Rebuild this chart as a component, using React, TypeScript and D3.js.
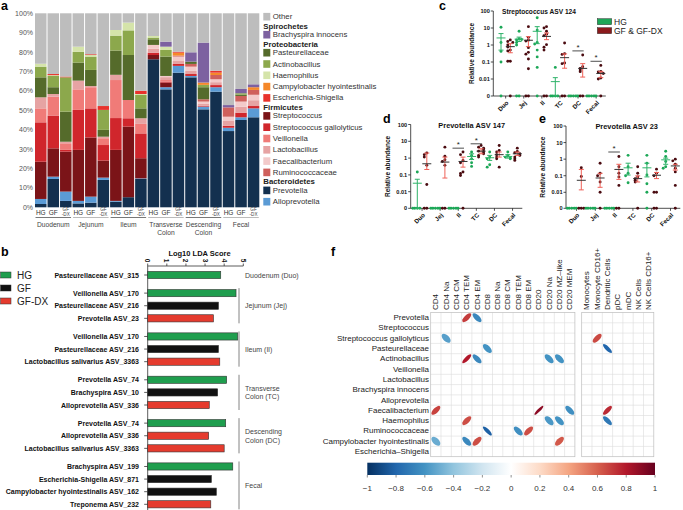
import { useEffect, useRef } from "react";
import * as d3 from "d3";

const W = 683;
const H = 510;
const FONT = "'Liberation Sans', Arial, Helvetica, sans-serif";

// ---------- a: relative composition (stack order bottom -> top) ----------
const TAXA = [
  "Prevotella", "Alloprevotella", "Streptococcus", "Streptococcus gallolyticus",
  "Veillonella", "Lactobacillus", "Faecalibacterium", "Ruminococcaceae",
  "Pasteurellaceae", "Actinobacillus", "Haemophilus",
  "Campylobacter hyointestinalis", "Escherichia-Shigella", "Brachyspira innocens", "Other",
];
const TAXA_COLORS = [
  "#13304f", "#5b9bd5", "#7b1418", "#d0262c",
  "#f07b78", "#e6a3a3", "#f3caca", "#cf605c",
  "#556b2b", "#8ca84c", "#d5e4aa",
  "#f5882a", "#e8322c", "#7d61a0", "#bdbdbd",
];
const BAR_TREATMENTS = ["HG", "GF", "GF-DX"];
const BAR_SITES = ["Duodenum", "Jejunum", "Ileum", "Transverse\nColon", "Descending\nColon", "Fecal"];
// one row per bar, values in TAXA order (%)
const BAR_VALUES = [
  [1.7, 2.6, 19.2, 20.3, 7.2, 5.7, 0, 0, 10.3, 5.5, 1.5, 0, 0, 0, 26.0],
  [14.6, 1.2, 14.6, 16.9, 9.7, 1.4, 0, 0, 3.5, 5.8, 0.4, 0, 0.6, 0, 31.3],
  [3.3, 4.8, 20.6, 0.9, 3.4, 0.8, 0, 0, 15.5, 17.7, 0, 0, 0.4, 0, 32.6],
  [2.0, 1.3, 26.3, 20.6, 10.6, 4.5, 0, 0, 9.3, 5.6, 2.6, 0, 0, 0, 17.2],
  [2.4, 3.1, 30.5, 15.0, 10.9, 0.6, 0, 0, 8.3, 6.9, 0.8, 0, 0.4, 0, 21.1],
  [14.1, 1.2, 8.8, 8.0, 3.5, 0.8, 0, 0, 3.5, 10.3, 0, 0, 2.0, 0, 47.8],
  [2.9, 0.4, 26.3, 16.4, 19.6, 2.7, 0, 0, 12.5, 7.7, 2.9, 0, 0, 0, 8.6],
  [5.2, 0, 36.4, 4.3, 9.4, 0, 0, 0, 23.2, 12.7, 4.0, 0, 0, 0, 4.8],
  [14.6, 0.3, 10.4, 12.8, 4.9, 2.9, 0, 0, 5.1, 6.9, 0.5, 0, 1.7, 0, 39.9],
  [76.3, 0, 2.2, 1.2, 0, 2.0, 2.0, 0, 2.9, 0.9, 0.8, 0, 0, 0, 11.7],
  [60.8, 1.1, 2.4, 0.5, 0.8, 1.5, 0.6, 0, 10.0, 3.4, 1.7, 0, 0, 2.6, 14.6],
  [69.4, 3.5, 0, 1.0, 0, 1.5, 2.3, 0.5, 0, 0, 0, 1.5, 0.5, 0, 19.8],
  [67.0, 0.7, 0, 1.0, 0, 1.8, 2.0, 1.4, 1.2, 0, 0, 0, 0, 4.8, 20.1],
  [50.5, 1.4, 0, 0.4, 0, 1.2, 1.0, 1.2, 6.2, 1.2, 0, 1.2, 0, 20.6, 15.1],
  [59.6, 2.3, 0, 1.1, 0, 1.5, 1.5, 2.2, 0, 0, 0, 1.2, 1.0, 0, 29.6],
  [39.3, 1.7, 0, 1.0, 0, 2.5, 2.2, 4.8, 0, 0, 0, 0, 0, 1.2, 47.3],
  [45.0, 1.4, 0, 2.4, 0, 3.0, 2.7, 2.9, 0.7, 0.7, 0, 0, 0, 2.2, 39.0],
  [46.4, 4.6, 0, 1.2, 0, 3.0, 2.8, 2.5, 0, 0, 0, 1.4, 0, 1.5, 36.6],
];
const PCT_TICKS = [0, 10, 20, 30, 40, 50, 60, 70, 80, 90, 100];
// "#" marks a phylum header
const LEGEND_ROWS = [
  "Other", "#Spirochetes", "Brachyspira innocens", "#Proteobacteria", "Pasteurellaceae",
  "Actinobacillus", "Haemophilus", "Campylobacter hyointestinalis", "Escherichia-Shigella",
  "#Firmicutes", "Streptococcus", "Streptococcus gallolyticus", "Veillonella", "Lactobacillus",
  "Faecalibacterium", "Ruminococcaceae", "#Bacteroidetes", "Prevotella", "Alloprevotella",
];

// ---------- b: LEfSe ----------
const LDA_LABELS = [
  "Pasteurellaceae ASV_315",
  "Veillonella ASV_170", "Pasteurellaceae ASV_216", "Prevotella ASV_23",
  "Veillonella ASV_170", "Pasteurellaceae ASV_216", "Lactobacillus salivarius ASV_3363",
  "Prevotella ASV_74", "Brachyspira ASV_10", "Alloprevotella ASV_336",
  "Prevotella ASV_74", "Alloprevotella ASV_336", "Lactobacillus salivarius ASV_3363",
  "Brachyspira ASV_199", "Escherichia-Shigella ASV_871", "Campylobacter hyointestinalis ASV_162", "Treponema ASV_232",
];
const LDA_SCORES = [3.82, 4.62, 3.7, 3.44, 4.71, 3.7, 3.77, 4.13, 3.66, 3.22, 4.08, 3.19, 4.0, 4.45, 3.33, 3.59, 3.3];
const LDA_CLASS = ["HG", "HG", "GF", "GF-DX", "HG", "GF", "GF-DX", "HG", "GF", "GF-DX", "HG", "GF-DX", "GF-DX", "HG", "GF", "GF", "GF-DX"];
const LDA_SITE = [0, 1, 1, 1, 2, 2, 2, 3, 3, 3, 4, 4, 4, 5, 5, 5, 5];
const LDA_SITE_NAMES = ["Duodenum (Duo)", "Jejunum (Jej)", "Ileum (Il)", "Transverse\nColon (TC)", "Descending\nColon (DC)", "Fecal"];
const LDA_TICKS = [0, 1, 2, 3, 4, 5];
const CLASS_NAMES = ["HG", "GF", "GF-DX"];
const CLASS_COLORS = ["#1f9e4e", "#111111", "#e53b2e"];

// ---------- c, d, e: relative abundance ----------
const DOT_SITES = ["Duo", "Jej", "Il", "TC", "DC", "Fecal"];
const DOT_TICKS = [100, 10, 1, 0.1, 0.01, 0];

const C_HG = [
  [11, 1.4, 0.42, 0.1, 0],
  [6.5, 2.3, 2.0, 2.1, 1.4, 1.0, 0, 0],
  [40, 7.5, 1.4, 1.15, 0.5, 0.2, 0.048, 0],
  [0.048, 0, 0, 0, 0],
  [0, 0, 0, 0, 0],
  [0, 0, 0, 0, 0],
];
const C_GF = [
  [2.0, 1.6, 1.4, 1.0, 0.75, 0.5, 0.45, 0.11, 0.11, 0],
  [12, 2.8, 1.9, 1.7, 0.7, 0.37, 0.29, 0.15, 0.04, 0, 0],
  [12, 10, 6.5, 4.3, 3.5, 1.05, 0.73, 0.5, 0, 0],
  [1.3, 0.31, 0.28, 0.088, 0.08, 0, 0],
  [0.26, 0.053, 0.042, 0.034, 0.027, 0, 0],
  [0.063, 0.028, 0.026, 0.021, 0.0115, 0.01, 0],
];
// [mean, lower, upper]
const C_HG_STATS = [[2.6, 0.5, 4.7], [2.2, 1.6, 2.9], [6.4, 1.2, 12], [0.007, 0, 0.012], null, null];
const C_GF_STATS = [[0.8, 0.35, 1.2], [1.9, 0.8, 3.1], [3.2, 2.06, 5.1], [0.18, 0.043, 0.3], [0.042, 0.013, 0.08], [0.021, 0.012, 0.028]];
const C_SIG = [[4, 0.45], [5, 0.11]];

const D_HG = [
  [0.15, 0, 0, 0, 0],
  [0, 0, 0, 0, 0],
  [0, 0, 0, 0, 0],
  [2.3, 1.45, 0.9, 0.53, 0.32],
  [2.3, 1.15, 0.9, 0.4, 0.29],
  [2.3, 1.45, 1.15, 1.0, 0.9],
];
const D_GF = [
  [2.0, 1.6, 1.15, 0.37, 0.027, 0, 0],
  [4.5, 1.3, 0.8, 0.63, 0.37, 0, 0],
  [2.3, 1.6, 0.73, 0.53, 0.15, 0.12, 0.093, 0],
  [5.6, 4.5, 3.9, 3.1, 2.6, 2.3, 1.8, 1.45, 1.15],
  [5.6, 2.85, 2.3, 1.6, 1.15, 0.9, 0.29],
  [3.9, 2.5, 2.1, 1.8, 1.45, 1.15, 0.9, 0.73],
];
const D_HG_STATS = [[0.032, 0, 0.055], null, null, [1.25, 0.83, 1.8], [1.05, 0.73, 1.45], [1.25, 1.0, 1.6]];
const D_GF_STATS = [[0.46, 0.21, 2.0], [0.58, 0.065, 1.15], [0.63, 0.29, 1.15], [2.6, 1.8, 3.6], [1.6, 1.15, 2.3], [1.8, 1.45, 2.3]];
const D_SIG = [[2, 3.9], [3, 7.1]];

const E_HG = [
  [0, 0, 0, 0, 0],
  [0, 0, 0, 0, 0],
  [0, 0, 0, 0, 0],
  [1.7, 0.35, 0.14, 0.1, 0.038],
  [1.7, 0.57, 0.11, 0.033, 0.01, 0],
  [3.0, 1.45, 0.72, 0.35, 0.28],
];
const E_GF = [
  [0.3, 0.09, 0, 0, 0],
  [0.57, 0.14, 0.1, 0.042, 0.01, 0],
  [1.45, 0.35, 0.14, 0.085, 0.026, 0, 0],
  [0.35, 0.14, 0.085, 0.067, 0.053, 0.042, 0],
  [0.25, 0.14, 0.1, 0.01, 0.01, 0, 0],
  [1.0, 0.79, 0.49, 0.28, 0.17, 0.026, 0],
];
const E_HG_STATS = [null, null, null, [0.3, 0.11, 0.57], [0.3, 0.085, 0.57], [0.91, 0.49, 1.15]];
const E_GF_STATS = [[0.053, 0.014, 0.24], [0.073, 0.02, 0.14], [0.24, 0.06, 0.49], [0.067, 0.042, 0.098], [0.107, 0.067, 0.157], [0.39, 0.22, 0.49]];
const E_SIG = [[2, 2.7]];

// ---------- f: correlations ----------
const F_ROWS = [
  "Prevotella", "Streptococcus", "Streptococcus gallolyticus", "Pasteurellaceae", "Actinobacillus",
  "Veillonella", "Lactobacillus", "Brachyspira innocens", "Alloprevotella", "Faecalibacterium",
  "Haemophilus", "Ruminococcaceae", "Campylobacter hyointestinalis", "Escherichia\u2013Shigella",
];
const F_COLS_T = ["CD4", "CD4 Na", "CD4 CM", "CD4 TEM", "CD4 EM", "CD8", "CD8 Na", "CD8 CM", "CD8 TEM", "CD8 EM", "CD20", "CD20 Na", "CD20 MZ\u2013like", "CD20 MEM"];
const F_COLS_I = ["Monocytes", "Monocyte CD16+", "Dendritic Cells", "pDC", "mDC", "NK Cells", "NK Cells CD16+"];
// [row, column, r]
const F_CORR_T = [
  [0, 3, 0.7], [0, 4, -0.65], [2, 1, -0.55], [3, 5, -0.6],
  [4, 3, 0.8], [4, 4, -0.65], [4, 11, -0.6], [4, 12, -0.6],
  [9, 0, 0.68], [9, 10, 0.9], [9, 13, -0.62],
  [10, 3, 0.65], [10, 11, -0.58], [10, 12, -0.6],
  [11, 5, -0.82], [11, 8, -0.62], [11, 9, 0.65],
  [12, 0, -0.5], [12, 3, -0.65], [12, 4, 0.65], [12, 12, 0.62],
];
const F_CORR_I = [[2, 1, 0.66], [3, 2, -0.8], [9, 2, 0.75], [10, 2, -0.72]];
const RDBU = ["#053061", "#2166AC", "#4393C3", "#92C5DE", "#D1E5F0", "#FFFFFF", "#FDDBC7", "#F4A582", "#D6604D", "#B2182B", "#67001F"];
const COLORBAR_TICKS = [-1, -0.8, -0.6, -0.4, -0.2, 0, 0.2, 0.4, 0.6, 0.8, 1];

type Sel = d3.Selection<any, unknown, null, undefined>;

function label(
  g: Sel, x: number, y: number, s: string, size: number,
  o: { anchor?: string; weight?: string; fill?: string; rotate?: number; baseline?: string } = {}
) {
  const t = g.append("text")
    .attr("x", x).attr("y", y)
    .attr("font-size", size)
    .attr("font-family", FONT)
    .attr("fill", o.fill ?? "#222")
    .attr("text-anchor", o.anchor ?? "start")
    .text(s);
  if (o.weight) t.attr("font-weight", o.weight);
  if (o.baseline) t.attr("dominant-baseline", o.baseline);
  if (o.rotate) t.attr("transform", `rotate(${o.rotate},${x},${y})`);
  return t;
}

function drawComposition(svg: Sel) {
  const g = svg.append("g");
  const x = d3.scaleBand<number>().domain(d3.range(BAR_VALUES.length)).range([35, 259.3]).paddingInner(0.08);
  const y = d3.scaleLinear().domain([0, 100]).range([207.3, 13.3]);

  PCT_TICKS.forEach((t) => {
    label(g, 33, y(t), `${t}%`, 7, { anchor: "end", fill: "#555", baseline: "central" });
  });

  const rows = BAR_VALUES.map((v) => Object.fromEntries(TAXA.map((t, i) => [t, v[i]])));
  const series = d3.stack<any>().keys(TAXA)(rows);
  series.forEach((layer, li) => {
    layer.forEach((d, bi) => {
      if (d[1] - d[0] <= 0) return;
      g.append("rect")
        .attr("x", x(bi)!)
        .attr("y", y(d[1]))
        .attr("width", x.bandwidth())
        .attr("height", y(d[0]) - y(d[1]))
        .attr("fill", TAXA_COLORS[li]);
    });
  });

  // bar labels
  d3.range(BAR_VALUES.length).forEach((bi) => {
    const cx = x(bi)! + x.bandwidth() / 2;
    const tr = BAR_TREATMENTS[bi % 3];
    if (tr === "GF-DX") {
      label(g, cx, 209.8, "GF", 4.6, { anchor: "middle", fill: "#444", baseline: "central" });
      label(g, cx, 214.4, "-DX", 4.6, { anchor: "middle", fill: "#444", baseline: "central" });
    } else {
      label(g, cx, 212, tr, 6.5, { anchor: "middle", fill: "#333", baseline: "central" });
    }
  });

  BAR_SITES.forEach((s, si) => {
    const x0 = x(si * 3)!;
    const x1 = x(si * 3 + 2)! + x.bandwidth();
    g.append("line")
      .attr("x1", x0 + 0.5).attr("x2", x1 - 0.5)
      .attr("y1", 217.5).attr("y2", 217.5)
      .attr("stroke", si % 2 === 0 ? "#555" : "#aaa")
      .attr("stroke-width", 0.8);
    s.split("\n").forEach((line, li) => {
      label(g, (x0 + x1) / 2, 224.5 + li * 8, line, 6.7, { anchor: "middle", fill: "#444", baseline: "central" });
    });
  });

  // legend
  let ly = 16.7;
  LEGEND_ROWS.forEach((row, i) => {
    if (i > 0) {
      const prevHeader = LEGEND_ROWS[i - 1].startsWith("#");
      ly += row.startsWith("#") ? 9.5 : prevHeader ? 8.5 : 11.3;
    }
    if (row.startsWith("#")) {
      label(g, 263.3, ly, row.slice(1), 7.8, { weight: "bold", fill: "#222", baseline: "central" });
    } else {
      const ti = TAXA.indexOf(row);
      g.append("rect").attr("x", 263.3).attr("y", ly - 3.8).attr("width", 7).attr("height", 7.6).attr("fill", TAXA_COLORS[ti]);
      label(g, 272.8, ly, row, 7.8, { fill: "#333", baseline: "central" });
    }
  });
}

function drawLda(svg: Sel) {
  const g = svg.append("g");
  const x = d3.scaleLinear().domain([0, 5]).range([147.7, 243.3]);
  const gapUnits = 0.437;
  const slots = LDA_LABELS.map((_, i) => i + LDA_SITE[i] * gapUnits);
  const y = d3.scaleLinear().domain([0, d3.max(slots)!]).range([275, 504.3]);
  const axisY = 266;

  label(g, (x(0) + x(5)) / 2 + 4, 253, "Log10 LDA Score", 7.5, { anchor: "middle", weight: "bold", fill: "#111", baseline: "central" });
  g.append("line").attr("x1", x(0)).attr("x2", x(5)).attr("y1", axisY).attr("y2", axisY).attr("stroke", "#333").attr("stroke-width", 0.8);
  LDA_TICKS.forEach((t) => {
    g.append("line").attr("x1", x(t)).attr("x2", x(t)).attr("y1", axisY).attr("y2", axisY - 2.5).attr("stroke", "#333").attr("stroke-width", 0.8);
    label(g, x(t), 260.5, String(t), 6.5, { anchor: "middle", weight: "bold", fill: "#111", baseline: "central", rotate: 90 });
  });
  g.append("line").attr("x1", x(0)).attr("x2", x(0)).attr("y1", axisY).attr("y2", 510).attr("stroke", "#333").attr("stroke-width", 0.8);

  LDA_LABELS.forEach((name, i) => {
    const cy = y(slots[i]);
    const ci = CLASS_NAMES.indexOf(LDA_CLASS[i]);
    g.append("rect")
      .attr("x", x(0)).attr("y", cy - 3.6)
      .attr("width", x(LDA_SCORES[i]) - x(0)).attr("height", 7.2)
      .attr("fill", CLASS_COLORS[ci])
      .attr("stroke", "#333").attr("stroke-width", 0.6);
    g.append("line").attr("x1", x(0) - 3.5).attr("x2", x(0)).attr("y1", cy).attr("y2", cy).attr("stroke", "#333").attr("stroke-width", 0.8);
    label(g, 139, cy, name, 7, { anchor: "end", weight: "bold", fill: "#111", baseline: "central" });
  });

  LDA_SITE_NAMES.forEach((site, si) => {
    const idx = LDA_SITE.map((s, i) => (s === si ? i : -1)).filter((i) => i >= 0);
    const y0 = y(slots[idx[0]]);
    const y1 = y(slots[idx[idx.length - 1]]);
    if (idx.length > 1) {
      g.append("line").attr("x1", 239).attr("x2", 239).attr("y1", y0 - 5).attr("y2", y1 + 5).attr("stroke", "#666").attr("stroke-width", 0.8);
    }
    const lines = site.split("\n");
    const mid = (y0 + y1) / 2;
    lines.forEach((ln, li) => {
      const cy = lines.length === 1 ? mid : mid - 4.2 + li * 8.6;
      label(g, 245, cy, ln, 7, { fill: "#444", baseline: "central" });
    });
  });

  // legend
  CLASS_NAMES.forEach((c, i) => {
    const cy = 275 + i * 13;
    g.append("rect").attr("x", 0.5).attr("y", cy - 3).attr("width", 10.5).attr("height", 6).attr("fill", CLASS_COLORS[i]).attr("stroke", "#333").attr("stroke-width", 0.5);
    label(g, 17, cy, c, 10, { fill: "#222", baseline: "central" });
  });
}

interface DotPanel {
  title: string;
  titleSize: number;
  axisX: number;
  y100: number;
  y001: number;
  y0: number;
  firstX: number;
  step: number;
  pair: number;
  titleX: number;
  yLabelX: number;
  hg: number[][];
  gf: number[][];
  hgStats: (number[] | null)[];
  gfStats: (number[] | null)[];
  sig: number[][];
}

const HG_DOT = "#1ca757";
const HG_ERR = "#2fb36a";
const GF_DOT = "#4a0b10";
const GF_ERR = "#ef6158";

function drawDotPlot(svg: Sel, p: DotPanel) {
  const g = svg.append("g");
  const log = d3.scaleLog().domain([0.01, 100]).range([p.y001, p.y100]);
  const y = (v: number) => (v <= 0 ? p.y0 : log(v));
  const site = d3.scalePoint<string>().domain(DOT_SITES).range([p.firstX, p.firstX + p.step * 5]);
  const lastX = site("Fecal")! + p.pair;

  label(g, p.titleX, p.y100 + 0.5, p.title, p.titleSize, { anchor: "middle", weight: "bold", fill: "#111", baseline: "central" });
  label(g, p.yLabelX, (p.y100 + p.y0) / 2, "Relative abundance", 6.5, { anchor: "middle", weight: "bold", fill: "#111", baseline: "central", rotate: -90 });

  g.append("line").attr("x1", p.axisX).attr("x2", p.axisX).attr("y1", p.y100).attr("y2", p.y0).attr("stroke", "#222").attr("stroke-width", 0.8);
  DOT_TICKS.forEach((t) => {
    g.append("line").attr("x1", p.axisX - 2.5).attr("x2", p.axisX).attr("y1", y(t)).attr("y2", y(t)).attr("stroke", "#222").attr("stroke-width", 0.8);
    label(g, p.axisX - 3.5, y(t), String(t), 5.6, { anchor: "end", weight: "bold", fill: "#111", baseline: "central" });
  });
  g.append("line").attr("x1", p.axisX).attr("x2", lastX + 5).attr("y1", p.y0).attr("y2", p.y0).attr("stroke", "#222").attr("stroke-width", 0.8);

  DOT_SITES.forEach((s, si) => {
    const cx = site(s)! + p.pair / 2;
    g.append("line").attr("x1", cx).attr("x2", cx).attr("y1", p.y0).attr("y2", p.y0 + 2.5).attr("stroke", "#222").attr("stroke-width", 0.8);
    label(g, cx + 1.5, p.y0 + 5.5, s, 6.2, { anchor: "end", weight: "bold", fill: "#111", baseline: "central", rotate: -45 });

    const groups: [number[], (number[] | null), number, string, string][] = [
      [p.hg[si], p.hgStats[si], site(s)!, HG_DOT, HG_ERR],
      [p.gf[si], p.gfStats[si], site(s)! + p.pair, GF_DOT, GF_ERR],
    ];
    groups.forEach(([vals, stat, gx, dotC, errC]) => {
      const placed: number[] = [];
      const offs = [0, -2.5, 2.5, -4.5, 4.5];
      vals.forEach((v) => {
        const py = y(v);
        const k = placed.filter((q) => Math.abs(q - py) < 2.8).length;
        placed.push(py);
        g.append("circle").attr("cx", gx + offs[k % offs.length]).attr("cy", py).attr("r", 1.45).attr("fill", dotC);
      });
      if (stat) {
        const [m, lo, hi] = stat;
        g.append("line").attr("x1", gx).attr("x2", gx).attr("y1", y(lo)).attr("y2", y(hi)).attr("stroke", errC).attr("stroke-width", 1);
        [lo, hi].forEach((b) => {
          g.append("line").attr("x1", gx - 2.5).attr("x2", gx + 2.5).attr("y1", y(b)).attr("y2", y(b)).attr("stroke", errC).attr("stroke-width", 1);
        });
        g.append("line").attr("x1", gx - 4.5).attr("x2", gx + 4.5).attr("y1", y(m)).attr("y2", y(m)).attr("stroke", errC === GF_ERR ? "#333" : errC).attr("stroke-width", 1);
      }
    });
  });

  p.sig.forEach(([si, v]) => {
    const x0 = site(DOT_SITES[si])! - 1;
    const x1 = x0 + p.pair + 2;
    g.append("line").attr("x1", x0).attr("x2", x1).attr("y1", y(v)).attr("y2", y(v)).attr("stroke", "#222").attr("stroke-width", 0.8);
    label(g, (x0 + x1) / 2, y(v) - 1, "*", 8, { anchor: "middle", fill: "#222" });
  });
}

function drawCorr(svg: Sel) {
  const g = svg.append("g");
  const y = d3.scaleBand<string>().domain(F_ROWS).range([312.5, 456.7]);
  const xT = d3.scaleBand<string>().domain(F_COLS_T).range([430.7, 574.9]);
  const xI = d3.scaleBand<string>().domain(F_COLS_I).range([581.7, 653.8]);
  const color = d3.scaleLinear<string>().domain(d3.range(11).map((i) => -1 + i * 0.2)).range(RDBU);
  const s = 4.5;

  F_ROWS.forEach((r) => {
    label(g, 429, y(r)! + y.bandwidth() / 2, r, 8, { anchor: "end", fill: "#222", baseline: "central" });
  });

  const grid = (x: d3.ScaleBand<string>, cols: string[], cells: number[][]) => {
    const [x0, x1] = x.range();
    const [y0, y1] = y.range();
    cols.forEach((c, i) => {
      if (i > 0) g.append("line").attr("x1", x(c)!).attr("x2", x(c)!).attr("y1", y0).attr("y2", y1).attr("stroke", "#dcdcdc").attr("stroke-width", 0.6);
      const cx = x(c)! + x.bandwidth() / 2;
      label(g, cx, 310, c, 8, { fill: "#222", baseline: "central", rotate: -90 });
    });
    F_ROWS.forEach((r, i) => {
      if (i > 0) g.append("line").attr("x1", x0).attr("x2", x1).attr("y1", y(r)!).attr("y2", y(r)!).attr("stroke", "#dcdcdc").attr("stroke-width", 0.6);
    });
    g.append("rect").attr("x", x0).attr("y", y0).attr("width", x1 - x0).attr("height", y1 - y0).attr("fill", "none").attr("stroke", "#bdbdbd").attr("stroke-width", 0.7);
    cells.forEach(([ri, ci, r]) => {
      const cx = x(cols[ci])! + x.bandwidth() / 2;
      const cy = y(F_ROWS[ri])! + y.bandwidth() / 2;
      g.append("ellipse")
        .attr("cx", cx).attr("cy", cy)
        .attr("rx", s * Math.sqrt(1 + Math.abs(r)))
        .attr("ry", s * Math.sqrt(1 - Math.abs(r)))
        .attr("transform", `rotate(${r > 0 ? -45 : 45},${cx},${cy})`)
        .attr("fill", color(r));
    });
  };
  grid(xT, F_COLS_T, F_CORR_T);
  grid(xI, F_COLS_I, F_CORR_I);

  // colour bar
  const cb = d3.scaleLinear().domain([-1, 1]).range([367.3, 655]);
  const grad = svg.append("defs").append("linearGradient").attr("id", "rdbu").attr("x1", "0%").attr("x2", "100%");
  RDBU.forEach((c, i) => {
    grad.append("stop").attr("offset", `${i * 10}%`).attr("stop-color", c);
  });
  g.append("rect").attr("x", cb(-1)).attr("y", 462.7).attr("width", cb(1) - cb(-1)).attr("height", 12.3).attr("fill", "url(#rdbu)");
  COLORBAR_TICKS.forEach((t) => {
    g.append("line").attr("x1", cb(t)).attr("x2", cb(t)).attr("y1", 475).attr("y2", 477.5).attr("stroke", "#444").attr("stroke-width", 0.6);
    const txt = t === 0 ? "0" : t < 0 ? `\u2212${Math.abs(t)}` : String(t);
    label(g, cb(t), 488, txt, 8, { anchor: "middle", fill: "#333", baseline: "central" });
  });
}

export default function App() {
  const svgRef = useRef<SVGSVGElement>(null);

  useEffect(() => {
    const svg = d3.select(svgRef.current) as unknown as Sel;
    svg.selectAll("*").remove();
    svg.append("rect").attr("width", W).attr("height", H).attr("fill", "#ffffff");

    drawComposition(svg);
    drawLda(svg);
    drawDotPlot(svg, {
      title: "Streptococcus ASV 124", titleSize: 6.6, axisX: 493.3, y100: 11, y001: 79, y0: 96,
      firstX: 501, step: 18.1, pair: 9.3, titleX: 539, yLabelX: 471.7,
      hg: C_HG, gf: C_GF, hgStats: C_HG_STATS, gfStats: C_GF_STATS, sig: C_SIG,
    });
    drawDotPlot(svg, {
      title: "Prevotella ASV 147", titleSize: 7.4, axisX: 410.7, y100: 124.5, y001: 191.7, y0: 208.3,
      firstX: 417.3, step: 18.1, pair: 9.5, titleX: 471.7, yLabelX: 387.3,
      hg: D_HG, gf: D_GF, hgStats: D_HG_STATS, gfStats: D_GF_STATS, sig: D_SIG,
    });
    drawDotPlot(svg, {
      title: "Prevotella ASV 23", titleSize: 7.4, axisX: 566, y100: 126, y001: 192.3, y0: 208.3,
      firstX: 571.7, step: 18.8, pair: 9.6, titleX: 626.7, yLabelX: 542.7,
      hg: E_HG, gf: E_GF, hgStats: E_HG_STATS, gfStats: E_GF_STATS, sig: E_SIG,
    });
    drawCorr(svg);

    // c legend
    const leg = svg.append("g");
    [["HG", HG_DOT], ["GF & GF-DX", "#8b1a1c"]].forEach(([name, c], i) => {
      const cy = 21.7 + i * 9;
      leg.append("rect").attr("x", 597.3).attr("y", cy - 3).attr("width", 14.4).attr("height", 6).attr("fill", c).attr("stroke", "#333").attr("stroke-width", 0.5);
      label(leg, 614, cy, name, 8.5, { fill: "#222", baseline: "central" });
    });

    // panel letters
    ([["a", 1, 10], ["b", 1, 256], ["c", 439, 10], ["d", 383, 123], ["e", 539, 123], ["f", 331, 256]] as [string, number, number][])
      .forEach(([l, lx, ly]) => label(svg, lx, ly, l, 12.5, { weight: "bold", fill: "#000" }));
  }, []);

  return (
    <svg
      ref={svgRef}
      width={W}
      height={H}
      style={{ position: "absolute", left: 0, top: 0 }}
    />
  );
}
